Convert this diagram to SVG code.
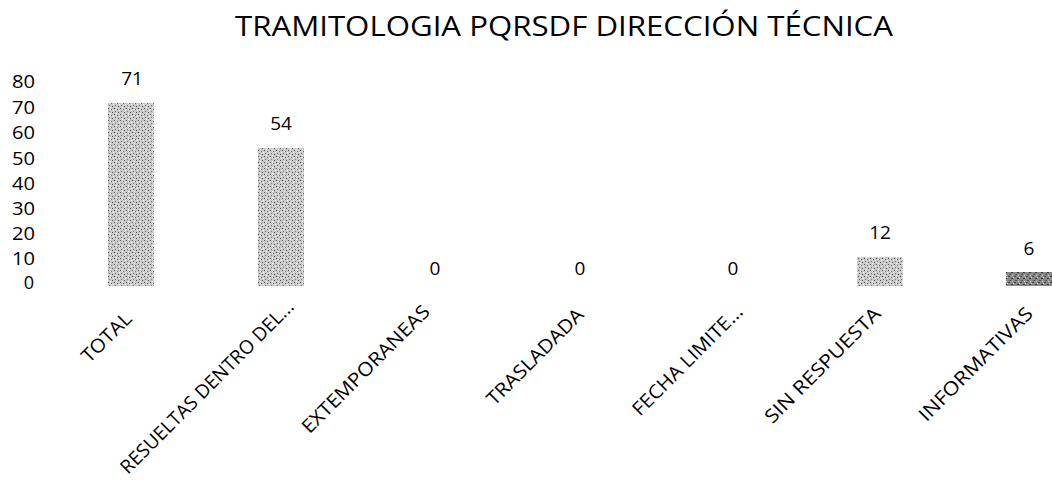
<svg xmlns="http://www.w3.org/2000/svg" width="1052" height="482" viewBox="0 0 1052 482">
<style>
text{font-family:"Open Sans","Noto Sans","Liberation Sans",sans-serif;fill:#000}
.ax{font-size:18px;text-anchor:end}
.val{font-size:19px;text-anchor:middle}
.cat{font-size:19px;text-anchor:end}
.title{font-size:27px}
</style>
<defs>
<pattern id="stip" width="6" height="6" patternUnits="userSpaceOnUse">
<rect width="6" height="6" fill="#c9c9c9"/>
<rect x="0" y="0" width="1" height="1" fill="#555"/>
<rect x="3" y="1" width="1" height="1" fill="#666"/>
<rect x="1" y="3" width="1" height="1" fill="#777"/>
<rect x="4" y="4" width="1" height="1" fill="#555"/>
<rect x="2" y="5" width="1" height="1" fill="#fff"/>
<rect x="5" y="2" width="1" height="1" fill="#fff"/>
<rect x="2" y="1" width="1" height="1" fill="#eee"/>
</pattern>
<pattern id="stipd" width="6" height="6" patternUnits="userSpaceOnUse">
<rect width="6" height="6" fill="#8a8a8a"/>
<rect x="0" y="0" width="2" height="1" fill="#444"/>
<rect x="3" y="2" width="2" height="1" fill="#333"/>
<rect x="1" y="4" width="2" height="1" fill="#555"/>
<rect x="4" y="5" width="1" height="1" fill="#ddd"/>
<rect x="5" y="1" width="1" height="1" fill="#ccc"/>
</pattern>
</defs>
<rect width="1052" height="482" fill="#fff"/>
<text class="title" x="235" y="36" textLength="658" lengthAdjust="spacingAndGlyphs">TRAMITOLOGIA PQRSDF DIRECCIÓN TÉCNICA</text>
<g id="yaxis">
<text class="ax" x="35" y="88" textLength="23" lengthAdjust="spacingAndGlyphs">80</text>
<text class="ax" x="35" y="114" textLength="23" lengthAdjust="spacingAndGlyphs">70</text>
<text class="ax" x="35" y="139" textLength="23" lengthAdjust="spacingAndGlyphs">60</text>
<text class="ax" x="35" y="165" textLength="23" lengthAdjust="spacingAndGlyphs">50</text>
<text class="ax" x="35" y="190" textLength="23" lengthAdjust="spacingAndGlyphs">40</text>
<text class="ax" x="35" y="215" textLength="23" lengthAdjust="spacingAndGlyphs">30</text>
<text class="ax" x="35" y="240" textLength="23" lengthAdjust="spacingAndGlyphs">20</text>
<text class="ax" x="35" y="265" textLength="23" lengthAdjust="spacingAndGlyphs">10</text>
<text class="ax" x="34" y="289">0</text>
</g>
<g id="bar-total"><rect x="108" y="103" width="46" height="183" fill="url(#stip)"/><text class="val" x="132" y="85">71</text></g>
<g id="bar-resueltas"><rect x="258" y="148" width="46" height="138" fill="url(#stip)"/><text class="val" x="281" y="130">54</text></g>
<g id="bar-extemporaneas"><text class="val" x="435" y="275">0</text></g>
<g id="bar-trasladada"><text class="val" x="580" y="275">0</text></g>
<g id="bar-fecha"><text class="val" x="733" y="275">0</text></g>
<g id="bar-sinrespuesta"><rect x="857" y="257" width="46" height="29" fill="url(#stip)"/><text class="val" x="880" y="239">12</text></g>
<g id="bar-informativas"><rect x="1006" y="272" width="46" height="14" fill="url(#stipd)"/><text class="val" x="1029" y="255">6</text></g>
<g id="xlabels">
<text class="cat" transform="translate(133,320) rotate(-45)" textLength="62" lengthAdjust="spacingAndGlyphs">TOTAL</text>
<text class="cat" transform="translate(295,308) rotate(-45)" textLength="236" lengthAdjust="spacingAndGlyphs">RESUELTAS DENTRO DEL...</text>
<text class="cat" transform="translate(431,313) rotate(-45)" textLength="172" lengthAdjust="spacingAndGlyphs">EXTEMPORANEAS</text>
<text class="cat" transform="translate(585,316) rotate(-45)" textLength="128" lengthAdjust="spacingAndGlyphs">TRASLADADA</text>
<text class="cat" transform="translate(744,313) rotate(-45)" textLength="147" lengthAdjust="spacingAndGlyphs">FECHA LIMITE...</text>
<text class="cat" transform="translate(882,315) rotate(-45)" textLength="155" lengthAdjust="spacingAndGlyphs">SIN RESPUESTA</text>
<text class="cat" transform="translate(1034,315) rotate(-45)" textLength="152" lengthAdjust="spacingAndGlyphs">INFORMATIVAS</text>
</g>
</svg>
